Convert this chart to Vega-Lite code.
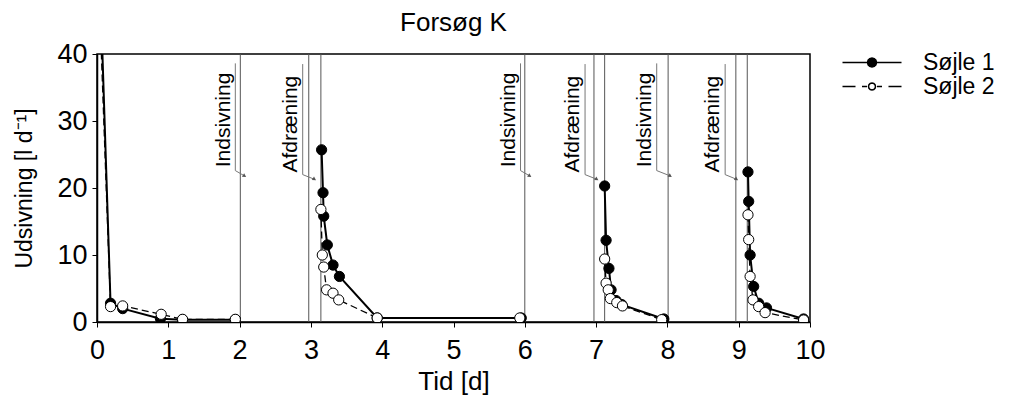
{
  "$schema": "https://vega.github.io/schema/vega-lite/v6.json",
  "width": 713,
  "height": 268,
  "autosize": {"type": "none"},
  "padding": {"left": 97, "top": 54, "right": 199, "bottom": 84},
  "background": "white",
  "title": {"text": "Forsøg K", "fontSize": 26, "fontWeight": "normal", "font": "Liberation Sans", "color": "black", "frame": "group", "anchor": "middle", "offset": 4},
  "config": {
    "font": "Liberation Sans",
    "view": {"stroke": "black", "strokeWidth": 1.5},
    "axis": {"grid": false, "domainColor": "black", "domainWidth": 1.5, "tickColor": "black", "tickWidth": 1, "tickSize": 5, "labelColor": "black", "labelFontSize": 27, "labelFont": "Liberation Sans", "titleColor": "black", "titleFontSize": 26, "titleFont": "Liberation Sans", "titleFontWeight": "normal"},
    "legend": {"orient": "none", "legendX": 739, "legendY": -3, "padding": 0, "symbolSize": 100, "symbolOffset": 24.5, "labelOffset": 39.5, "labelFontSize": 23, "labelFont": "Liberation Sans", "labelColor": "black", "rowPadding": -2, "symbolOpacity": 1, "symbolStrokeColor": "black", "symbolStrokeWidth": 1.5}
  },
  "datasets": {
    "pts": [
      {"s": "Søjle 1", "seg": 1, "x": 0.03, "y": 55},
      {"s": "Søjle 1", "seg": 1, "x": 0.19, "y": 2.8},
      {"s": "Søjle 1", "seg": 1, "x": 0.36, "y": 2.0},
      {"s": "Søjle 1", "seg": 1, "x": 0.89, "y": 0.5},
      {"s": "Søjle 1", "seg": 1, "x": 1.2, "y": 0.35},
      {"s": "Søjle 1", "seg": 1, "x": 1.94, "y": 0.35},
      {"s": "Søjle 1", "seg": 2, "x": 3.15, "y": 25.7},
      {"s": "Søjle 1", "seg": 2, "x": 3.17, "y": 19.3},
      {"s": "Søjle 1", "seg": 2, "x": 3.18, "y": 15.8},
      {"s": "Søjle 1", "seg": 2, "x": 3.23, "y": 11.5},
      {"s": "Søjle 1", "seg": 2, "x": 3.31, "y": 8.5},
      {"s": "Søjle 1", "seg": 2, "x": 3.40, "y": 6.8},
      {"s": "Søjle 1", "seg": 2, "x": 3.93, "y": 0.6},
      {"s": "Søjle 1", "seg": 2, "x": 5.95, "y": 0.6},
      {"s": "Søjle 1", "seg": 3, "x": 7.12, "y": 20.3},
      {"s": "Søjle 1", "seg": 3, "x": 7.14, "y": 12.2},
      {"s": "Søjle 1", "seg": 3, "x": 7.18, "y": 8.0},
      {"s": "Søjle 1", "seg": 3, "x": 7.21, "y": 4.8},
      {"s": "Søjle 1", "seg": 3, "x": 7.28, "y": 3.2},
      {"s": "Søjle 1", "seg": 3, "x": 7.36, "y": 2.6},
      {"s": "Søjle 1", "seg": 3, "x": 7.95, "y": 0.45},
      {"s": "Søjle 1", "seg": 4, "x": 9.13, "y": 22.4},
      {"s": "Søjle 1", "seg": 4, "x": 9.14, "y": 18.0},
      {"s": "Søjle 1", "seg": 4, "x": 9.16, "y": 10.0},
      {"s": "Søjle 1", "seg": 4, "x": 9.21, "y": 5.3},
      {"s": "Søjle 1", "seg": 4, "x": 9.28, "y": 2.8},
      {"s": "Søjle 1", "seg": 4, "x": 9.39, "y": 2.1},
      {"s": "Søjle 1", "seg": 4, "x": 9.91, "y": 0.45},
      {"s": "Søjle 2", "seg": 1, "x": 0.01, "y": 55},
      {"s": "Søjle 2", "seg": 1, "x": 0.19, "y": 2.3},
      {"s": "Søjle 2", "seg": 1, "x": 0.36, "y": 2.4},
      {"s": "Søjle 2", "seg": 1, "x": 0.90, "y": 1.15},
      {"s": "Søjle 2", "seg": 1, "x": 1.2, "y": 0.4},
      {"s": "Søjle 2", "seg": 1, "x": 1.94, "y": 0.4},
      {"s": "Søjle 2", "seg": 2, "x": 3.14, "y": 16.8},
      {"s": "Søjle 2", "seg": 2, "x": 3.16, "y": 10.0},
      {"s": "Søjle 2", "seg": 2, "x": 3.18, "y": 8.2},
      {"s": "Søjle 2", "seg": 2, "x": 3.22, "y": 4.8},
      {"s": "Søjle 2", "seg": 2, "x": 3.31, "y": 4.3},
      {"s": "Søjle 2", "seg": 2, "x": 3.39, "y": 3.3},
      {"s": "Søjle 2", "seg": 2, "x": 3.93, "y": 0.6},
      {"s": "Søjle 2", "seg": 2, "x": 5.93, "y": 0.6},
      {"s": "Søjle 2", "seg": 3, "x": 7.12, "y": 9.4},
      {"s": "Søjle 2", "seg": 3, "x": 7.14, "y": 5.8},
      {"s": "Søjle 2", "seg": 3, "x": 7.17, "y": 4.8},
      {"s": "Søjle 2", "seg": 3, "x": 7.20, "y": 3.5},
      {"s": "Søjle 2", "seg": 3, "x": 7.29, "y": 2.9},
      {"s": "Søjle 2", "seg": 3, "x": 7.37, "y": 2.4},
      {"s": "Søjle 2", "seg": 3, "x": 7.92, "y": 0.35},
      {"s": "Søjle 2", "seg": 4, "x": 9.13, "y": 16.0},
      {"s": "Søjle 2", "seg": 4, "x": 9.14, "y": 12.3},
      {"s": "Søjle 2", "seg": 4, "x": 9.16, "y": 6.8},
      {"s": "Søjle 2", "seg": 4, "x": 9.20, "y": 3.3},
      {"s": "Søjle 2", "seg": 4, "x": 9.28, "y": 2.3},
      {"s": "Søjle 2", "seg": 4, "x": 9.37, "y": 1.4},
      {"s": "Søjle 2", "seg": 4, "x": 9.91, "y": 0.3}
    ],
    "ev": [
      {"x": 2.01, "y": 0, "y2": 40},
      {"x": 2.97, "y": 0, "y2": 40},
      {"x": 3.14, "y": 0, "y2": 40},
      {"x": 6.0, "y": 0, "y2": 40},
      {"x": 6.97, "y": 0, "y2": 40},
      {"x": 7.12, "y": 0, "y2": 40},
      {"x": 8.01, "y": 0, "y2": 40},
      {"x": 8.96, "y": 0, "y2": 40},
      {"x": 9.12, "y": 0, "y2": 40}
    ],
    "lead": [
      {"x": 1.94, "x2": 1.94, "y": 38.6, "y2": 22.6},
      {"x": 1.94, "x2": 2.07, "y": 22.6, "y2": 21.8},
      {"x": 2.885, "x2": 2.885, "y": 38.5, "y2": 22.0},
      {"x": 2.885, "x2": 3.05, "y": 22.0, "y2": 21.3},
      {"x": 5.94, "x2": 5.94, "y": 38.6, "y2": 22.6},
      {"x": 5.94, "x2": 6.07, "y": 22.6, "y2": 21.8},
      {"x": 6.845, "x2": 6.845, "y": 38.5, "y2": 22.0},
      {"x": 6.845, "x2": 7.01, "y": 22.0, "y2": 21.3},
      {"x": 7.85, "x2": 7.85, "y": 38.6, "y2": 22.6},
      {"x": 7.85, "x2": 8.04, "y": 22.6, "y2": 21.8},
      {"x": 8.81, "x2": 8.81, "y": 38.5, "y2": 22.0},
      {"x": 8.81, "x2": 8.97, "y": 22.0, "y2": 21.3}
    ],
    "tips": [
      {"x": 2.07, "y": 21.8},
      {"x": 3.05, "y": 21.3},
      {"x": 6.07, "y": 21.8},
      {"x": 7.01, "y": 21.3},
      {"x": 8.04, "y": 21.8},
      {"x": 8.97, "y": 21.3}
    ],
    "lab": [
      {"label": "Indsivning", "x": 1.915, "y": 23.1},
      {"label": "Afdræning", "x": 2.86, "y": 22.3},
      {"label": "Indsivning", "x": 5.915, "y": 23.1},
      {"label": "Afdræning", "x": 6.82, "y": 22.3},
      {"label": "Indsivning", "x": 7.825, "y": 23.1},
      {"label": "Afdræning", "x": 8.785, "y": 22.3}
    ]
  },
  "encoding": {
    "x": {"field": "x", "type": "quantitative", "title": "Tid [d]", "scale": {"domain": [0, 10], "nice": false, "zero": false},
      "axis": {"values": [0, 1, 2, 3, 4, 5, 6, 7, 8, 9, 10], "labelPadding": 10, "titlePadding": 5, "labelFlush": false}},
    "y": {"field": "y", "type": "quantitative", "title": "Udsivning [l d⁻¹]", "scale": {"domain": [0, 40], "nice": false, "zero": false},
      "axis": {"values": [0, 10, 20, 30, 40], "labelPadding": 5, "titlePadding": 20, "titleFontSize": 23, "labelFlush": false}}
  },
  "layer": [
    {
      "data": {"name": "ev"},
      "mark": {"type": "rule", "color": "#555555", "strokeWidth": 1},
      "encoding": {"y2": {"field": "y2"}}
    },
    {
      "data": {"name": "lead"},
      "mark": {"type": "rule", "color": "#777777", "strokeWidth": 1},
      "encoding": {"x2": {"field": "x2"}, "y2": {"field": "y2"}}
    },
    {
      "data": {"name": "tips"},
      "mark": {"type": "point", "shape": "triangle-right", "filled": true, "color": "#555555", "size": 18, "angle": 32, "opacity": 1},
      "encoding": {}
    },
    {
      "data": {"name": "lab"},
      "mark": {"type": "text", "angle": 270, "align": "left", "baseline": "bottom", "fontSize": 21, "font": "Liberation Sans", "color": "black"},
      "encoding": {"text": {"field": "label"}}
    },
    {
      "data": {"name": "pts"},
      "transform": [{"filter": {"field": "s", "equal": "Søjle 1"}}],
      "mark": {"type": "line", "color": "black", "strokeWidth": 2, "clip": true},
      "encoding": {"detail": {"field": "seg"}}
    },
    {
      "data": {"name": "pts"},
      "transform": [{"filter": {"field": "s", "equal": "Søjle 2"}}],
      "mark": {"type": "line", "color": "black", "strokeWidth": 1.3, "strokeDash": [7, 4], "clip": true},
      "encoding": {"detail": {"field": "seg"}}
    },
    {
      "data": {"name": "pts"},
      "mark": {"type": "point", "shape": "circle", "filled": true, "size": 105, "stroke": "black", "strokeWidth": 1, "opacity": 1, "clip": true},
      "encoding": {
        "fill": {"field": "s", "type": "nominal", "scale": {"domain": ["Søjle 1", "Søjle 2"], "range": ["black", "white"]}, "legend": {"title": null}}
      }
    },
    {
      "data": {"name": "pts"},
      "mark": {"type": "point", "opacity": 0, "clip": true},
      "encoding": {
        "shape": {"field": "s", "type": "nominal",
          "scale": {"domain": ["Søjle 1", "Søjle 2"], "range": [
            "M-5.9,0L5.9,0M0.9,0L0.779,0.45L0.45,0.779L0,0.9L-0.45,0.779L-0.779,0.45L-0.9,0L-0.779,-0.45L-0.45,-0.779L0,-0.9L0.45,-0.779L0.779,-0.45Z",
            "M-5.9,0L-3.3,0M-2.0,0L-1.0,0M1.0,0L2.0,0M3.3,0L5.9,0M0.7,0L0.606,0.35L0.35,0.606L0,0.7L-0.35,0.606L-0.606,0.35L-0.7,0L-0.606,-0.35L-0.35,-0.606L0,-0.7L0.35,-0.606L0.606,-0.35Z"
          ]},
          "legend": {"title": null}
        }
      }
    }
  ]
}
